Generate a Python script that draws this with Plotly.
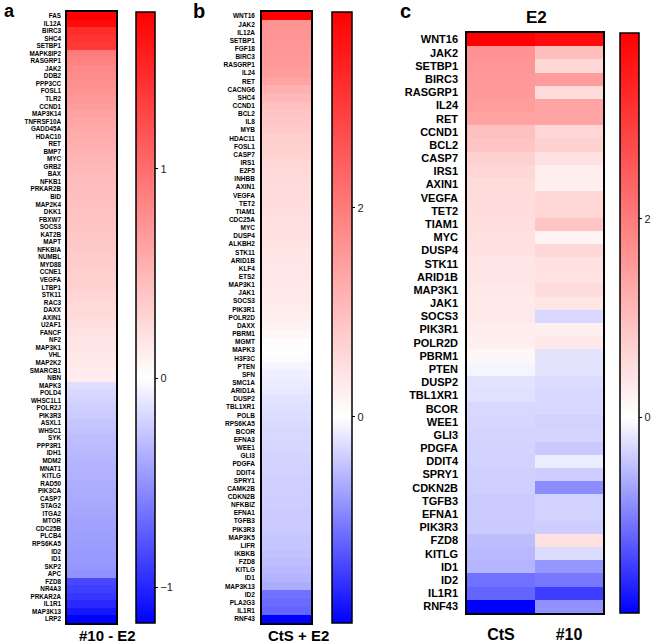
import plotly.graph_objects as go

# ---- Panel a: #10 - E2 ----
genes_a = ["FAS", "IL12A", "BIRC3", "SHC4", "SETBP1", "MAPK8IP2", "RASGRP1", "JAK2", "DDB2", "PPP3CC",
           "FOSL1", "TLR2", "CCND1", "MAP3K14", "TNFRSF10A", "GADD45A", "HDAC10", "RET", "BMP7", "MYC",
           "GRB2", "BAX", "NFKB1", "PRKAR2B", "BID", "MAP2K4", "DKK1", "FBXW7", "SOCS3", "KAT2B",
           "MAPT", "NFKBIA", "NUMBL", "MYD88", "CCNE1", "VEGFA", "LTBP1", "STK11", "RAC3", "DAXX",
           "AXIN1", "U2AF1", "FANCF", "NF2", "MAP3K1", "VHL", "MAP2K2", "SMARCB1", "NBN", "MAPK3",
           "POLD4", "WHSC1L1", "POLR2J", "PIK3R3", "ASXL1", "WHSC1", "SYK", "PPP3R1", "IDH1", "MDM2",
           "MNAT1", "KITLG", "RAD50", "PIK3CA", "CASP7", "STAG2", "ITGA2", "MTOR", "CDC25B", "PLCB4",
           "RPS6KA5", "ID2", "ID1", "SKP2", "APC", "FZD8", "NR4A3", "PRKAR2A", "IL1R1", "MAP3K13", "LRP2"]
vals_a = [1.75, 1.68, 1.45, 1.40, 1.37, 0.90, 0.86, 0.82, 0.79, 0.77,
          0.74, 0.71, 0.67, 0.64, 0.61, 0.59, 0.57, 0.55, 0.53, 0.51,
          0.49, 0.47, 0.46, 0.45, 0.44, 0.43, 0.42, 0.41, 0.40, 0.39,
          0.38, 0.37, 0.36, 0.35, 0.33, 0.32, 0.31, 0.29, 0.27, 0.26,
          0.24, 0.22, 0.20, 0.18, 0.17, 0.16, 0.15, 0.14, 0.13, -0.15,
          -0.18, -0.20, -0.22, -0.24, -0.26, -0.28, -0.30, -0.31, -0.32, -0.34,
          -0.35, -0.36, -0.37, -0.38, -0.39, -0.40, -0.41, -0.42, -0.43, -0.44,
          -0.45, -0.46, -0.47, -0.48, -0.50, -0.84, -0.88, -0.92, -0.98, -1.06, -1.17]
range_a = [-1.17, 1.75]
ticks_a = [-1, 0, 1]

# ---- Panel b: CtS + E2 ----
genes_b = ["WNT16", "JAK2", "IL12A", "SETBP1", "FGF18", "BIRC3", "RASGRP1", "IL24", "RET", "CACNG6",
           "SHC4", "CCND1", "BCL2", "IL8", "MYB", "HDAC11", "FOSL1", "CASP7", "IRS1", "E2F5",
           "INHBB", "AXIN1", "VEGFA", "TET2", "TIAM1", "CDC25A", "MYC", "DUSP4", "ALKBH2", "STK11",
           "ARID1B", "KLF4", "ETS2", "MAP3K1", "JAK1", "SOCS3", "PIK3R1", "POLR2D", "DAXX", "PBRM1",
           "MGMT", "MAPK3", "H3F3C", "PTEN", "SFN", "SMC1A", "ARID1A", "DUSP2", "TBL1XR1", "POLB",
           "RPS6KA5", "BCOR", "EFNA3", "WEE1", "GLI3", "PDGFA", "DDIT4", "SPRY1", "CAMK2B", "CDKN2B",
           "NFKBIZ", "EFNA1", "TGFB3", "PIK3R3", "MAP3K5", "LIFR", "IKBKB", "FZD8", "KITLG", "ID1",
           "MAP3K13", "ID2", "PLA2G3", "IL1R1", "RNF43"]
vals_b = [3.87, 1.65, 1.62, 1.60, 1.58, 1.56, 1.54, 1.50, 1.40, 1.20,
          1.10, 0.95, 0.90, 0.85, 0.80, 0.75, 0.72, 0.68, 0.60, 0.58,
          0.56, 0.55, 0.53, 0.52, 0.50, 0.49, 0.48, 0.45, 0.43, 0.40,
          0.38, 0.37, 0.36, 0.35, 0.34, 0.32, 0.27, 0.25, 0.20, 0.12,
          0.05, 0.02, -0.02, -0.08, -0.12, -0.15, -0.18, -0.22, -0.24, -0.26,
          -0.28, -0.30, -0.31, -0.32, -0.33, -0.34, -0.35, -0.36, -0.37, -0.38,
          -0.39, -0.40, -0.40, -0.41, -0.43, -0.45, -0.47, -0.50, -0.54, -0.58,
          -0.65, -1.10, -1.15, -1.20, -1.97]
range_bc = [-1.97, 3.87]
ticks_bc = [0, 2]

# ---- Panel c: E2 (CtS, #10) ----
genes_c = ["WNT16", "JAK2", "SETBP1", "BIRC3", "RASGRP1", "IL24", "RET", "CCND1", "BCL2", "CASP7",
           "IRS1", "AXIN1", "VEGFA", "TET2", "TIAM1", "MYC", "DUSP4", "STK11", "ARID1B", "MAP3K1",
           "JAK1", "SOCS3", "PIK3R1", "POLR2D", "PBRM1", "PTEN", "DUSP2", "TBL1XR1", "BCOR", "WEE1",
           "GLI3", "PDGFA", "DDIT4", "SPRY1", "CDKN2B", "TGFB3", "EFNA1", "PIK3R3", "FZD8", "KITLG",
           "ID1", "ID2", "IL1R1", "RNF43"]
cols_c = ["CtS", "#10"]
cts_c = [3.87, 1.65, 1.60, 1.56, 1.54, 1.50, 1.40, 0.95, 0.90, 0.68,
         0.60, 0.55, 0.53, 0.52, 0.50, 0.48, 0.45, 0.40, 0.38, 0.35,
         0.34, 0.32, 0.27, 0.25, 0.12, -0.08, -0.22, -0.24, -0.30, -0.32,
         -0.33, -0.34, -0.35, -0.36, -0.38, -0.40, -0.40, -0.41, -0.50, -0.54,
         -0.58, -1.10, -1.20, -1.97]
n10_c = [3.70, 0.99, 0.60, 1.50, 0.53, 1.37, 1.37, 0.60, 0.68, 0.45,
         0.26, 0.23, 0.60, 0.60, 0.90, 0.20, 0.60, 0.45, 0.42, 0.53,
         0.38, -0.31, 0.25, 0.35, -0.21, -0.21, -0.27, -0.31, -0.31, -0.35,
         -0.33, -0.42, -0.15, -0.39, -0.89, -0.35, -0.35, -0.39, 0.45, -0.27,
         -0.81, -1.04, -1.50, -0.85]


def bwr(zmin, zmax):
    # blau -> weiss (bei 0) -> rot
    mid = -zmin / (zmax - zmin)
    return [[0, "rgb(0,0,255)"], [mid, "rgb(255,255,255)"], [1, "rgb(255,0,0)"]]


W, H = 656, 644


def px(x):
    return x / W


def py(y):
    return 1 - y / H


def cbar(x0, top, bottom, thick, tickvals):
    return dict(x=px(x0), xanchor="left", y=py(top), yanchor="top",
                len=(bottom - top) / H, lenmode="fraction",
                thickness=thick, thicknessmode="pixels", xpad=0, ypad=0,
                outlinewidth=1.5, outlinecolor="black",
                tickvals=tickvals, ticks="outside", ticklen=3, tickcolor="black",
                tickfont=dict(family="Arial, Liberation Sans", size=11, color="#222"))


fig = go.Figure()

fig.add_trace(go.Heatmap(z=[[v] for v in vals_a], x=["a"], y=genes_a,
                         zmin=range_a[0], zmax=range_a[1], colorscale=bwr(*range_a),
                         colorbar=cbar(136, 12, 623, 19, ticks_a),
                         xaxis="x", yaxis="y"))
fig.add_trace(go.Heatmap(z=[[v] for v in vals_b], x=["b"], y=genes_b,
                         zmin=range_bc[0], zmax=range_bc[1], colorscale=bwr(*range_bc),
                         colorbar=cbar(332, 12, 623, 20, ticks_bc),
                         xaxis="x2", yaxis="y2"))
fig.add_trace(go.Heatmap(z=[[a, b] for a, b in zip(cts_c, n10_c)], x=cols_c, y=genes_c,
                         zmin=range_bc[0], zmax=range_bc[1], colorscale=bwr(*range_bc),
                         colorbar=cbar(620, 33, 613, 19, ticks_bc),
                         xaxis="x3", yaxis="y3"))

frame = dict(showline=True, mirror=True, linecolor="black", linewidth=1.5,
             showgrid=False, zeroline=False, ticks="", automargin=False)
lab_font = dict(family="Arial, Liberation Sans", color="black", weight="bold")

fig.update_layout(
    width=W, height=H, margin=dict(l=0, r=0, t=0, b=0),
    paper_bgcolor="white", plot_bgcolor="white",
    xaxis=dict(domain=[px(67), px(116)], anchor="y", showticklabels=False, **frame),
    yaxis=dict(domain=[py(623), py(12)], anchor="x", autorange="reversed",
               tickmode="linear", dtick=1,
               tickfont=dict(size=6.3, **lab_font), ticklabelstandoff=3, **frame),
    xaxis2=dict(domain=[px(262), px(311)], anchor="y2", showticklabels=False, **frame),
    yaxis2=dict(domain=[py(623), py(12)], anchor="x2", autorange="reversed",
                tickmode="linear", dtick=1,
                tickfont=dict(size=6.5, **lab_font), ticklabelstandoff=4, **frame),
    xaxis3=dict(domain=[px(467), px(603)], anchor="y3", side="bottom",
                tickfont=dict(size=16, **lab_font), ticklabelstandoff=6, **frame),
    yaxis3=dict(domain=[py(613), py(33)], anchor="x3", autorange="reversed",
                tickmode="linear", dtick=1,
                tickfont=dict(size=11, **lab_font), ticklabelstandoff=5, **frame),
)

# Beschriftungen
notes = [
    ("a", 9, 11, 18), ("b", 199, 11, 20), ("c", 405, 11, 20),
    ("#10 - E2", 107, 635, 15), ("CtS + E2", 298, 635, 15), ("E2", 536, 17, 17),
]
for txt, x, y, s in notes:
    fig.add_annotation(x=px(x), y=py(y), xref="paper", yref="paper", text=txt,
                       showarrow=False, xanchor="center", yanchor="middle",
                       font=dict(size=s, **lab_font))

# Seitenrand des Browsers entfernen, damit die Grafik bei (0,0) beginnt
fig.write_html("out.html", config={"displayModeBar": False},
               post_script="document.body.style.margin='0';")
